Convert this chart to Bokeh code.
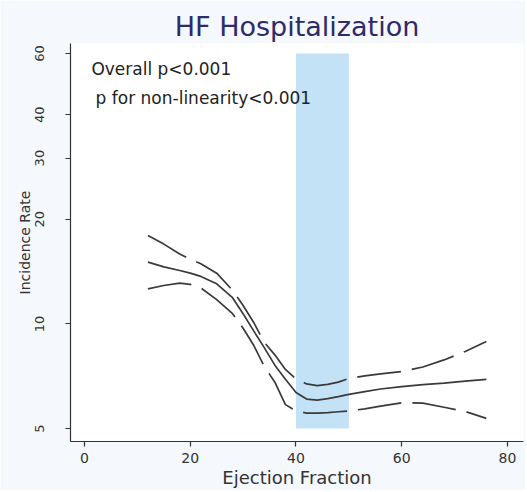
from bokeh.plotting import figure
from bokeh.models import FixedTicker, BasicTickFormatter, Label
from bokeh.embed import file_html
from bokeh.resources import INLINE

# ejection fraction (%) and estimated incidence rate with its 95% band
ef = [12, 15, 18, 20, 22, 25, 28, 30, 32, 34, 36, 38, 40, 42, 44, 46, 48, 50,
      53, 56, 60, 64, 68, 72, 76]
rate = [15.06, 14.6, 14.25, 14.0, 13.7, 13.05, 11.9, 10.7, 9.55, 8.55, 7.61,
        6.93, 6.35, 6.08, 6.04, 6.1, 6.18, 6.27, 6.39, 6.5, 6.6, 6.69, 6.76,
        6.85, 6.93]
upper = [17.96, 16.97, 15.9, 15.35, 14.9, 14.0, 12.5, 11.3, 10.1, 8.85, 8.15,
         7.4, 6.95, 6.72, 6.65, 6.7, 6.8, 6.97, 7.09, 7.18, 7.3, 7.52, 7.88,
         8.33, 8.9]
lower = [12.62, 12.9, 13.1, 13.0, 12.7, 11.75, 10.7, 9.72, 8.68, 7.55, 6.8,
         5.86, 5.62, 5.54, 5.54, 5.56, 5.59, 5.62, 5.7, 5.8, 5.93, 5.92, 5.76,
         5.6, 5.35]

# shaded range of ejection fraction
band_ef = [40, 50]
band_rate = [5, 60]

x_ticks = [0, 20, 40, 60, 80]
y_ticks = [5, 10, 20, 30, 40, 60]

FONT = "DejaVu Sans"
INK = "#333333"

p = figure(width=525, height=490,
           x_range=(-2.65, 83.03), y_range=(4.59, 64.1),
           y_axis_type="log",
           title="HF Hospitalization",
           output_backend="svg", toolbar_location=None,
           min_border_left=70, min_border_right=2,
           min_border_top=43, min_border_bottom=49)

p.border_fill_color = "#f5f8fc"
p.background_fill_color = "white"
p.outline_line_color = None
p.grid.visible = False

p.title.align = "center"
p.title.text_font = FONT
p.title.text_font_size = "27px"
p.title.text_font_style = "normal"
p.title.text_color = "#2d2b6b"
p.title.standoff = 4

p.xaxis.ticker = FixedTicker(ticks=x_ticks)
p.yaxis.ticker = FixedTicker(ticks=y_ticks)
p.yaxis.formatter = BasicTickFormatter()
p.yaxis.major_label_orientation = "vertical"

for ax in (p.xaxis, p.yaxis):
    ax.axis_line_color = INK
    ax.axis_line_width = 1.2
    ax.major_tick_line_color = INK
    ax.major_tick_line_width = 1.2
    ax.major_tick_in = 0
    ax.major_tick_out = 5
    ax.minor_tick_line_color = None
    ax.major_label_text_font = FONT
    ax.major_label_text_color = INK
    ax.axis_label_text_font = FONT
    ax.axis_label_text_font_style = "normal"
    ax.axis_label_text_color = INK

p.xaxis.major_label_text_font_size = "14px"
p.xaxis.major_label_standoff = 6
p.yaxis.major_label_text_font_size = "13px"
p.yaxis.major_label_standoff = 21

p.xaxis.axis_label = "Ejection Fraction"
p.xaxis.axis_label_text_font_size = "18px"
p.xaxis.axis_label_standoff = 1

p.yaxis.axis_label = "Incidence Rate"
p.yaxis.axis_label_text_font_size = "14px"
p.yaxis.axis_label_standoff = 0

p.quad(left=[band_ef[0]], right=[band_ef[1]],
       bottom=[band_rate[0]], top=[band_rate[1]],
       fill_color="#c4e2f6", line_color=None)

p.line(ef, upper, line_color="#3a3a3a", line_width=1.7, line_dash="44 11")
p.line(ef, lower, line_color="#3a3a3a", line_width=1.7, line_dash="44 11")
p.line(ef, rate, line_color="#3a3a3a", line_width=1.7)

p.add_layout(Label(x=1.3, y=54.3, text="Overall p<0.001",
                   text_baseline="alphabetic", text_font=FONT,
                   text_font_size="17px", text_color="#222222"))
p.add_layout(Label(x=2.1, y=44.8, text="p for non-linearity<0.001",
                   text_baseline="alphabetic", text_font=FONT,
                   text_font_size="17px", text_color="#222222"))

open("out.html", "w").write(file_html(p, INLINE))
